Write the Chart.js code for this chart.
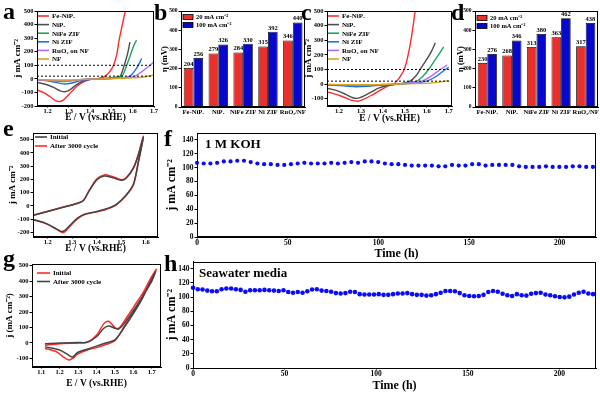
<!DOCTYPE html>
<html><head><meta charset="utf-8">
<script src="https://cdn.jsdelivr.net/npm/chart.js@4.4.0/dist/chart.umd.min.js"></script>
<style>
body{margin:0;background:#fff;}
#wrap{position:relative;width:600px;height:394px;overflow:hidden;background:#fff;font-family:"Liberation Serif","Times New Roman",serif;}
canvas{position:absolute;}
.lbl{position:absolute;font-weight:bold;font-size:24px;line-height:24px;z-index:5;}
.note{position:absolute;font-weight:bold;font-size:13px;line-height:13px;z-index:5;white-space:nowrap;}
</style></head><body><div id="wrap"></div>
<script>
// ---------- DATA ----------
// Panel a (LSV, 1 M KOH) [E, j]
const aFeNiPx = [[1.15,-82],[1.18,-100],[1.21,-130],[1.235,-158],[1.255,-168],[1.275,-155],[1.30,-115],[1.33,-65],[1.36,-30],[1.39,-9],[1.42,0],[1.44,4],[1.46,12],[1.47,20],[1.49,50],[1.51,100],[1.525,180],[1.536,285],[1.55,390],[1.565,500]];
const aNiPx = [[1.15,-26],[1.19,-40],[1.23,-65],[1.26,-88],[1.28,-95],[1.30,-85],[1.33,-50],[1.36,-20],[1.39,-5],[1.43,0],[1.47,3],[1.51,8],[1.53,14],[1.541,20],[1.55,50],[1.56,100],[1.575,180],[1.587,270]];
const aNiFeZIF = [[1.15,-8],[1.20,-12],[1.25,-18],[1.28,-20],[1.31,-15],[1.35,-6],[1.40,-1],[1.45,2],[1.50,6],[1.53,12],[1.549,20],[1.56,50],[1.572,100],[1.59,180],[1.605,245],[1.618,285]];
const aNiZIF = [[1.15,-5],[1.20,-15],[1.25,-30],[1.28,-38],[1.31,-32],[1.35,-15],[1.40,-3],[1.45,0],[1.50,3],[1.55,8],[1.575,14],[1.587,20],[1.605,50],[1.626,100],[1.642,150]];
const aRuO2 = [[1.15,-8],[1.20,-10],[1.25,-14],[1.29,-16],[1.33,-10],[1.38,-3],[1.45,0],[1.52,4],[1.57,10],[1.611,20],[1.64,50],[1.67,85],[1.70,125]];
const aNF = [[1.15,-5],[1.25,-8],[1.30,-8],[1.40,-2],[1.50,2],[1.60,8],[1.65,14],[1.70,28]];
// Panel c (LSV, seawater) [E, j]
const cFeNiPx = [[1.15,-55],[1.19,-72],[1.23,-95],[1.26,-112],[1.285,-117],[1.31,-105],[1.35,-75],[1.39,-40],[1.42,-15],[1.448,0],[1.463,20],[1.48,55],[1.497,100],[1.515,200],[1.53,320],[1.547,500]];
const cNiPx = [[1.15,-30],[1.19,-45],[1.23,-70],[1.26,-92],[1.28,-98],[1.30,-90],[1.34,-60],[1.38,-28],[1.42,-10],[1.46,-2],[1.50,8],[1.524,20],[1.55,55],[1.57,100],[1.60,170],[1.62,220],[1.639,282]];
const cNiFeZIF = [[1.15,-5],[1.22,-8],[1.28,-12],[1.33,-10],[1.40,-5],[1.47,0],[1.52,8],[1.555,20],[1.58,50],[1.608,100],[1.64,170],[1.677,254]];
const cNiZIF = [[1.15,-8],[1.22,-12],[1.28,-18],[1.33,-15],[1.40,-6],[1.48,0],[1.55,8],[1.60,20],[1.64,50],[1.685,100],[1.70,115]];
const cRuO2 = [[1.15,-3],[1.25,-6],[1.30,-7],[1.40,-3],[1.48,2],[1.54,10],[1.578,20],[1.62,55],[1.662,100],[1.693,130]];
const cNF = [[1.15,-3],[1.30,-5],[1.45,-1],[1.55,3],[1.65,12],[1.70,25]];
const refLevels = [20, 100];
// Panels b, d (overpotential, mV)
const catLabels = ['Fe-NiPₓ','NiPₓ','NiFe ZIF','Ni ZIF','RuO₂/NF'];
const b20 = [204,279,284,315,346];
const b100 = [256,326,330,392,440];
const d20 = [230,268,313,363,317];
const d100 = [276,346,380,462,438];
// Panel e (CV, KOH) loops [E, j]
const eInitial = [[1.14,-72],[1.20,-42],[1.26,-12],[1.32,18],[1.345,38],[1.37,115],[1.40,195],[1.43,225],[1.46,216],[1.50,193],[1.52,208],[1.55,285],[1.57,385],[1.59,515],[1.57,330],[1.55,165],[1.52,82],[1.48,12],[1.44,-22],[1.40,-42],[1.35,-63],[1.32,-95],[1.29,-148],[1.27,-185],[1.255,-193],[1.23,-168],[1.19,-130],[1.14,-102]];
const eAfter = [[1.14,-70],[1.20,-40],[1.26,-10],[1.32,20],[1.345,40],[1.37,120],[1.40,202],[1.43,234],[1.46,224],[1.50,198],[1.52,212],[1.55,290],[1.57,390],[1.59,525],[1.57,335],[1.55,160],[1.52,78],[1.48,8],[1.44,-25],[1.40,-45],[1.35,-66],[1.32,-100],[1.29,-155],[1.27,-195],[1.26,-202],[1.235,-175],[1.19,-132],[1.14,-105]];
// Panel g (CV, seawater)
const gInitial = [[1.12,-15],[1.20,-5],[1.30,0],[1.35,5],[1.40,50],[1.44,125],[1.465,140],[1.50,100],[1.52,95],[1.55,140],[1.60,230],[1.65,320],[1.70,430],[1.725,475],[1.65,300],[1.60,200],[1.55,105],[1.50,15],[1.45,-10],[1.40,-30],[1.35,-45],[1.30,-70],[1.27,-100],[1.25,-110],[1.22,-90],[1.18,-55],[1.12,-35]];
const gAfter = [[1.12,-5],[1.20,0],[1.30,3],[1.35,5],[1.40,40],[1.44,95],[1.465,110],[1.50,95],[1.52,90],[1.55,125],[1.60,210],[1.65,300],[1.70,400],[1.72,460],[1.65,290],[1.60,190],[1.55,100],[1.50,20],[1.45,0],[1.40,-20],[1.35,-40],[1.30,-60],[1.27,-90],[1.25,-80],[1.20,-45],[1.12,-25]];
// Panel f (stability, 1 M KOH)
const fTime = [0,3.7,7.4,11.1,14.8,18.5,22.2,25.9,29.6,33.3,37,40.7,44.4,48.1,51.8,55.5,59.2,62.9,66.6,70.3,74,77.7,81.4,85.1,88.8,92.5,96.2,99.9,103.6,107.3,111,114.7,118.4,122.1,125.8,129.5,133.2,136.9,140.6,144.3,148,151.7,155.4,159.1,162.8,166.5,170.2,173.9,177.6,181.3,185,188.7,192.4,196.1,199.8,203.5,207.2,210.9,214.6,218.3];
const fJ = [107,106,106,107,109,109,110,110,108,106,105,105,104,104,105,106,107,106,106,106,107,106,107,108,107,109,109,108,106,105,105,104,103,103,103,103,102,102,104,103,103,105,105,103,104,104,104,104,102,101,101,101,102,101,101,101,102,102,101,101];
// Panel h (stability, seawater)
const hTime = [0,2.6,5.2,7.8,10.4,13,15.6,18.2,20.8,23.4,26,28.6,31.2,33.8,36.4,39,41.6,44.2,46.8,49.4,52,54.6,57.2,59.8,62.4,65,67.6,70.2,72.8,75.4,78,80.6,83.2,85.8,88.4,91,93.6,96.2,98.8,101.4,104,106.6,109.2,111.8,114.4,117,119.6,122.2,124.8,127.4,130,132.6,135.2,137.8,140.4,143,145.6,148.2,150.8,153.4,156,158.6,161.2,163.8,166.4,169,171.6,174.2,176.8,179.4,182,184.6,187.2,189.8,192.4,195,197.6,200.2,202.8,205.4,208,210.6,213.2,215.8,218.4];
const hJ = [113,111,110.5,109,108,108,111,112,112,111,110,107.5,109.5,109.5,109.5,110,109.5,109,108.5,109.5,107,106,107,106,108,110.5,111,109,108.5,107.5,105.5,105,105.5,107.5,107,104,103.5,103.5,103.5,104,103,103,104,105,105,105.5,104,103,103,102,102.5,104,106,108.5,108.5,108,105.5,102.5,101.5,101,101.5,103,107,108.5,107.5,104.5,102.5,101.5,104,102.5,102,104.5,105.5,106,103.5,102.5,101,100,99.5,100.5,103.5,106,107.5,105,104];
// Tick values
const ticksLSVx = [1.2,1.3,1.4,1.5,1.6,1.7];
const ticksAy = [-200,-100,0,100,200,300,400,500];
const ticksCy = [-100,0,100,200,300,400,500];
const ticksBarY = [0,100,200,300,400,500];
const ticksEx = [1.2,1.3,1.4,1.5,1.6];
const ticksEy = [-200,-100,0,100,200,300,400,500];
const ticksGx = [1.1,1.2,1.3,1.4,1.5,1.6,1.7];
const ticksGy = [-100,0,100,200,300,400,500];
const ticksTimeX = [0,50,100,150,200];
const ticksTimeY = [0,20,40,60,80,100,120,140];

// ---------- RENDER ----------
const FONT = '"Liberation Serif","Times New Roman",serif';
Chart.defaults.font.family = FONT;
Chart.defaults.font.weight = 'bold';
Chart.defaults.color = '#000';
Chart.defaults.animation = false;

const COL = {fe:'#ff2a2a', nip:'#4d4d4d', nife:'#22a35a', ni:'#1f6fe8', ru:'#b36bff', nf:'#d9a21b'};
const wrap = document.getElementById('wrap');
const pts = arr => arr.map(p => ({x:p[0], y:p[1]}));
const zip = (xs, ys) => xs.map((x,i) => ({x, y:ys[i]}));

const frame = {id:'frame', afterDatasetsDraw(chart){
  const a = chart.chartArea, ctx = chart.ctx;
  ctx.save(); ctx.strokeStyle='#000'; ctx.lineWidth=1;
  ctx.strokeRect(Math.round(a.left)+0.5, Math.round(a.top)+0.5, Math.round(a.right-a.left)-1, Math.round(a.bottom-a.top)-1);
  ctx.restore();
}};
const insideLegend = {id:'insideLegend', afterDraw(chart, args, o){
  if(!o || !o.items) return;
  const ctx = chart.ctx, a = chart.chartArea;
  ctx.save(); ctx.font = o.font; ctx.textBaseline = 'middle'; ctx.textAlign='left';
  o.items.forEach((it,i) => {
    const y = a.top + o.y + i*o.gap, x = a.left + o.x;
    if(it.box){ ctx.fillStyle = it.color; ctx.fillRect(x, y-2.5, o.len, 5); ctx.strokeStyle='#000'; ctx.lineWidth=0.8; ctx.strokeRect(x, y-2.5, o.len, 5); }
    else { ctx.strokeStyle = it.color; ctx.lineWidth = 1.6; ctx.beginPath(); ctx.moveTo(x,y); ctx.lineTo(x+o.len,y); ctx.stroke(); }
    ctx.fillStyle = '#000'; ctx.fillText(it.label, x + o.len + o.tgap, y + 0.5);
  });
  ctx.restore();
}};
const barValues = {id:'barValues', afterDatasetsDraw(chart, args, o){
  if(!o || !o.on) return;
  const ctx = chart.ctx;
  ctx.save(); ctx.font = 'bold 6.5px ' + FONT; ctx.fillStyle='#000'; ctx.textAlign='center'; ctx.textBaseline='bottom';
  chart.data.datasets.forEach((ds, i) => {
    chart.getDatasetMeta(i).data.forEach((bar, j) => ctx.fillText(String(ds.data[j]), bar.x, bar.y - 0.5));
  });
  ctx.restore();
}};
Chart.register(frame, insideLegend, barValues);

function linAxis(min, max, ticks, fmt, title, titleSize, tickSize, fitKey, fitVal, horiz){
  return {type:'linear', min, max,
    afterBuildTicks: s => { s.ticks = ticks.map(v => ({value:v})); },
    afterFit: s => { s[fitKey] = fitVal; },
    grid:{drawOnChartArea:false, drawTicks:true, tickLength: horiz ? 1.5 : 2.5, color:'#000', lineWidth:1},
    border:{display:true, color:'#000', width:1},
    ticks:{font:{size:tickSize, weight:'bold'}, padding: horiz ? 0 : 1, maxRotation:0, autoSkip:false, callback: fmt},
    title:{display:!!title, text:title, font:{size:titleSize, weight:'bold'}, padding:0, color:'#000'}
  };
}
function geom(p){
  const lhY = p.yts*1.2, lhX = (p.xts||10)*1.2;
  const padL = p.yTitleX - lhY/2 - p.box.left;
  const yW = p.area.l - p.box.left - padL;
  const padT = p.area.t - p.box.top;
  const padR = p.box.left + p.box.w - p.area.r;
  const xBottom = p.xTitleY ? p.xTitleY + lhX/2 : p.xAxisBottom;
  const xH = xBottom - p.area.b;
  const padB = p.box.top + p.box.h - xBottom;
  return {padL, yW, padT, padR, xH, padB};
}
function mkCanvas(box){
  const c = document.createElement('canvas');
  c.width = box.w; c.height = box.h;
  c.style.left = box.left+'px'; c.style.top = box.top+'px';
  c.style.width = box.w+'px'; c.style.height = box.h+'px';
  wrap.appendChild(c); return c;
}
const f1 = v => Number(v).toFixed(1);
const f0 = v => String(v);

function lineChart(p){
  const g = geom(p);
  new Chart(mkCanvas(p.box), {
    type:'scatter',
    data:{datasets:p.datasets},
    options:{responsive:false, animation:false,
      layout:{padding:{left:g.padL, top:g.padT, right:g.padR, bottom:g.padB}, autoPadding:false},
      plugins:{legend:{display:false}, tooltip:{enabled:false}, insideLegend:p.legend || {}, barValues:{}},
      scales:{
        x: linAxis(p.xmin, p.xmax, p.xticks, p.xfmt, p.xTitle, p.xts, p.tickSize, 'height', g.xH, true),
        y: linAxis(p.ymin, p.ymax, p.yticks, f0, p.yTitle, p.yts, p.tickSize, 'width', g.yW, false)
      }
    }
  });
}
function barChart(p){
  const g = geom(p);
  new Chart(mkCanvas(p.box), {
    type:'bar',
    data:{labels:catLabels, datasets:[
      {data:p.s20, backgroundColor:'#e8312d', borderColor:'#000', borderWidth:0.8, barPercentage:1, categoryPercentage:0.78},
      {data:p.s100, backgroundColor:'#0808cc', borderColor:'#000', borderWidth:0.8, barPercentage:1, categoryPercentage:0.78}
    ]},
    options:{responsive:false, animation:false,
      layout:{padding:{left:g.padL, top:g.padT, right:g.padR, bottom:g.padB}, autoPadding:false},
      plugins:{legend:{display:false}, tooltip:{enabled:false}, barValues:{on:true},
        insideLegend:{items:[{label:'20 mA cm⁻²', color:'#e8312d', box:true},{label:'100 mA cm⁻²', color:'#0808cc', box:true}], x:2, y:p.legY, gap:8, len:10, tgap:3, font:'bold 6.5px '+FONT}},
      scales:{
        x:{type:'category', afterFit:s=>{s.height=g.xH;},
           grid:{display:false, drawTicks:false}, border:{display:true,color:'#000',width:1},
           ticks:{font:{size:6.6, weight:'bold'}, padding:1, maxRotation:0, autoSkip:false}},
        y: linAxis(0, 500, ticksBarY, f0, 'η (mV)', 8.5, 5.5, 'width', g.yW, false)
      }
    }
  });
}
const lsvLegend = {items:[
  {label:'Fe-NiPₓ', color:COL.fe},{label:'NiPₓ', color:COL.nip},{label:'NiFe ZIF', color:COL.nife},
  {label:'Ni ZIF', color:COL.ni},{label:'RuO₂ on NF', color:COL.ru},{label:'NF', color:COL.nf}],
  x:1, y:5, gap:8.6, len:11, tgap:3, font:'bold 7px '+FONT};
function lsvSets(s, xmin, xmax){
  const mk = (d,c) => ({data:pts(d), showLine:true, borderColor:c, borderWidth:1.4, pointRadius:0, cubicInterpolationMode:'monotone'});
  const dash = lv => ({data:[{x:xmin,y:lv},{x:xmax,y:lv}], showLine:true, borderColor:'#000', borderWidth:1, borderDash:[2,2], pointRadius:0});
  return [dash(refLevels[0]), dash(refLevels[1]), mk(s[5],COL.nf), mk(s[4],COL.ru), mk(s[3],COL.ni), mk(s[2],COL.nife), mk(s[1],COL.nip), mk(s[0],COL.fe)];
}

// a
lineChart({box:{left:0,top:0,w:160,h:128}, area:{l:37,t:11,r:154,b:106}, yTitleX:18, yts:9, xTitleY:118, xts:9.5, tickSize:6.5,
  xmin:1.15, xmax:1.7, xticks:ticksLSVx, xfmt:f1, ymin:-200, ymax:500, yticks:ticksAy,
  xTitle:'E / V (vs.RHE)', yTitle:'j mA cm⁻²', legend:lsvLegend,
  datasets:lsvSets([aFeNiPx,aNiPx,aNiFeZIF,aNiZIF,aRuO2,aNF],1.15,1.7)});
// b
barChart({box:{left:152,top:0,w:155,h:124}, area:{l:181,t:11,r:306,b:107}, yTitleX:165, yts:8.5, xAxisBottom:118, s20:b20, s100:b100, legY:6});
// c
lineChart({box:{left:298,top:0,w:157,h:128}, area:{l:327,t:11,r:452,b:106}, yTitleX:309, yts:9, xTitleY:118.5, xts:9.5, tickSize:6.5,
  xmin:1.145, xmax:1.715, xticks:ticksLSVx, xfmt:f1, ymin:-150, ymax:500, yticks:ticksCy,
  xTitle:'E / V (vs.RHE)', yTitle:'j mA cm⁻²', legend:lsvLegend,
  datasets:lsvSets([cFeNiPx,cNiPx,cNiFeZIF,cNiZIF,cRuO2,cNF],1.145,1.715)});
// d
barChart({box:{left:455,top:0,w:145,h:124}, area:{l:475,t:11,r:598,b:107}, yTitleX:461, yts:8.5, xAxisBottom:118, s20:d20, s100:d100, legY:7});
// e
lineChart({box:{left:0,top:125,w:163,h:133}, area:{l:33,t:133,r:158,b:237}, yTitleX:13, yts:9, xTitleY:249, xts:9.5, tickSize:6.5,
  xmin:1.14, xmax:1.65, xticks:ticksEx, xfmt:f1, ymin:-235, ymax:550, yticks:ticksEy,
  xTitle:'E / V (vs.RHE)', yTitle:'j mA cm⁻²',
  legend:{items:[{label:'Initial', color:'#444'},{label:'After 3000 cycle', color:'#ff2a2a'}], x:2, y:4, gap:9, len:12, tgap:3, font:'bold 7px '+FONT},
  datasets:[
    {data:pts(eInitial), showLine:true, borderColor:'#444', borderWidth:1.5, pointRadius:0, tension:0.3},
    {data:pts(eAfter), showLine:true, borderColor:'#ff2a2a', borderWidth:1.5, pointRadius:0, tension:0.3}
  ]});
// f
lineChart({box:{left:162,top:125,w:438,h:138}, area:{l:197,t:133,r:596,b:237}, yTitleX:172, yts:12, xTitleY:254, xts:12, tickSize:7.5,
  xmin:0, xmax:220, xticks:ticksTimeX, xfmt:f0, ymin:0, ymax:150, yticks:ticksTimeY,
  xTitle:'Time (h)', yTitle:'j mA cm⁻²',
  datasets:[{data:zip(fTime,fJ), showLine:false, pointRadius:2.1, pointBackgroundColor:'#0a0aff', pointBorderWidth:0, clip:false}]});
// g
lineChart({box:{left:0,top:256,w:165,h:138}, area:{l:32,t:264,r:161,b:367}, yTitleX:10, yts:9, xTitleY:384, xts:9.5, tickSize:6.5,
  xmin:1.05, xmax:1.75, xticks:ticksGx, xfmt:f1, ymin:-155, ymax:510, yticks:ticksGy,
  xTitle:'E / V (vs.RHE)', yTitle:'j (mA cm⁻²)',
  legend:{items:[{label:'Initial', color:'#ff2a2a'},{label:'After 3000 cycle', color:'#444'}], x:5, y:9, gap:8.5, len:13, tgap:3, font:'bold 7px '+FONT},
  datasets:[
    {data:pts(gAfter), showLine:true, borderColor:'#444', borderWidth:1.5, pointRadius:0, tension:0.3},
    {data:pts(gInitial), showLine:true, borderColor:'#ff2a2a', borderWidth:1.5, pointRadius:0, tension:0.3}
  ]});
// h
lineChart({box:{left:162,top:256,w:438,h:138}, area:{l:193,t:260,r:596,b:368}, yTitleX:172, yts:12, xTitleY:386, xts:12, tickSize:7.5,
  xmin:0, xmax:220, xticks:ticksTimeX, xfmt:f0, ymin:0, ymax:150, yticks:ticksTimeY,
  xTitle:'Time (h)', yTitle:'j mA cm⁻²',
  datasets:[{data:zip(hTime,hJ), showLine:false, pointRadius:2.3, pointBackgroundColor:'#0a0aff', pointBorderWidth:0, clip:false}]});

// panel letters and notes
[['a',3,-1],['b',154,0],['c',301,0],['d',451,0],['e',3,116],['f',164,126],['g',3,246],['h',164,251]].forEach(([t,x,y]) => {
  const d = document.createElement('div'); d.className='lbl'; d.textContent=t; d.style.left=x+'px'; d.style.top=y+'px'; wrap.appendChild(d);
});
[['1 M KOH',205,137],['Seawater media',199,266]].forEach(([t,x,y]) => {
  const d = document.createElement('div'); d.className='note'; d.textContent=t; d.style.left=x+'px'; d.style.top=y+'px'; wrap.appendChild(d);
});
</script></body></html>
